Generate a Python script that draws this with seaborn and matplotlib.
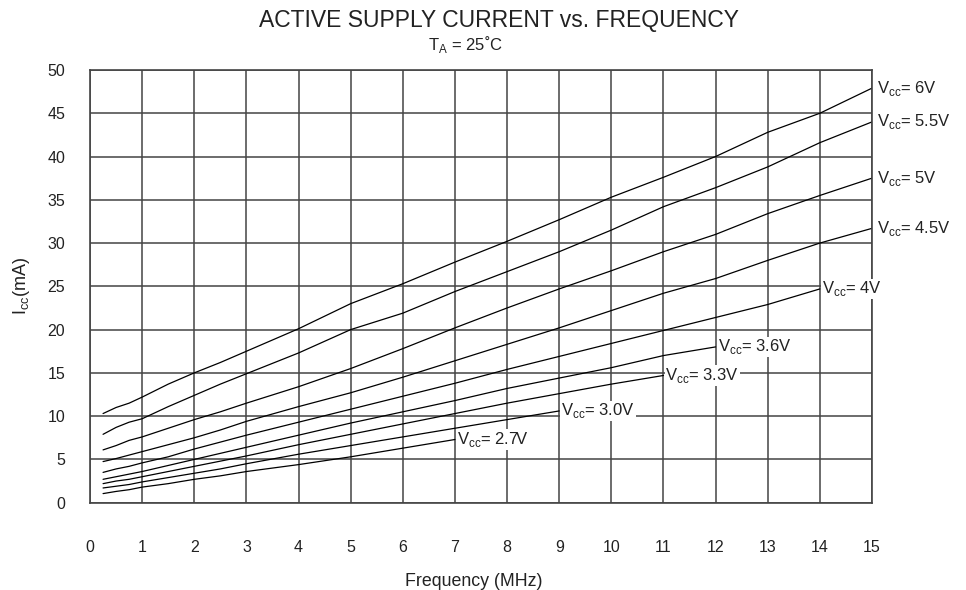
from matplotlib import pyplot as plt
import pandas as pd
import seaborn as sns

# values (mA), one list per supply voltage
freq = [0.25, 0.5, 0.75, 1, 1.5, 2, 2.5, 3, 4, 5, 6, 7, 8, 9, 10, 11, 12, 13, 14, 15]

icc_6v0 = [10.3, 11.0, 11.5, 12.2, 13.7, 15.0, 16.2, 17.5, 20.1, 23.0, 25.3, 27.8, 30.2, 32.7, 35.3, 37.6, 40.0, 42.8, 45.0, 47.9]
icc_5v5 = [7.9, 8.7, 9.3, 9.7, 11.1, 12.4, 13.7, 14.9, 17.3, 20.0, 21.9, 24.4, 26.7, 29.0, 31.5, 34.2, 36.4, 38.8, 41.6, 44.0]
icc_5v0 = [6.1, 6.6, 7.2, 7.6, 8.6, 9.6, 10.5, 11.5, 13.4, 15.5, 17.8, 20.2, 22.5, 24.7, 26.8, 29.0, 31.0, 33.4, 35.5, 37.5]
icc_4v5 = [4.75, 5.1, 5.5, 5.9, 6.7, 7.5, 8.4, 9.4, 11.1, 12.7, 14.5, 16.4, 18.3, 20.2, 22.2, 24.2, 25.9, 28.0, 30.0, 31.7]
icc_4v0 = [3.5, 3.9, 4.2, 4.6, 5.3, 6.2, 7.0, 7.8, 9.3, 10.8, 12.3, 13.8, 15.4, 16.9, 18.4, 19.9, 21.4, 22.9, 24.7]
icc_3v6 = [2.7, 3.0, 3.3, 3.6, 4.3, 5.0, 5.7, 6.4, 7.8, 9.2, 10.5, 11.8, 13.2, 14.4, 15.6, 17.0, 18.0]
icc_3v3 = [2.2, 2.5, 2.7, 3.0, 3.6, 4.2, 4.8, 5.4, 6.7, 7.9, 9.1, 10.3, 11.5, 12.6, 13.7, 14.7]
icc_3v0 = [1.7, 1.9, 2.1, 2.4, 2.9, 3.4, 3.9, 4.5, 5.6, 6.6, 7.6, 8.6, 9.6, 10.6]
icc_2v7 = [1.05, 1.3, 1.5, 1.8, 2.2, 2.7, 3.1, 3.6, 4.4, 5.3, 6.3, 7.3]

vcc_names = ["6V", "5.5V", "5V", "4.5V", "4V", "3.6V", "3.3V", "3.0V", "2.7V"]
series = [icc_6v0, icc_5v5, icc_5v0, icc_4v5, icc_4v0, icc_3v6, icc_3v3, icc_3v0, icc_2v7]

rows = []
for name, vals in zip(vcc_names, series):
    for f, i in zip(freq, vals):
        rows.append({"vcc": name, "freq": f, "icc": i})
df = pd.DataFrame(rows)

sns.set_style("white")
plt.rcParams['font.family'] = ['Liberation Sans', 'DejaVu Sans']
plt.rcParams['mathtext.fontset'] = 'custom'
plt.rcParams['mathtext.rm'] = 'Liberation Sans'

grid_col = "#444444"
txt_col = "#222222"

fig = plt.figure(figsize=(9.66, 5.9), dpi=100)
ax = fig.add_axes([0.0932, 0.148, 0.8095, 0.7334])

sns.lineplot(data=df, x="freq", y="icc", hue="vcc", hue_order=vcc_names,
             palette=["black"] * len(vcc_names), legend=False, lw=0.9, ax=ax)

ax.set_xlim(0, 15)
ax.set_ylim(0, 50)
ax.set_xticks(range(0, 16))
ax.set_yticks(range(0, 51, 5))
ax.grid(True, color=grid_col, lw=1.1)
ax.set_axisbelow(True)
for s in ax.spines.values():
    s.set_color(grid_col)
    s.set_linewidth(1.2)
ax.tick_params(axis='x', length=0, pad=27, labelsize=11.5, colors=txt_col)
ax.tick_params(axis='y', length=0, pad=18, labelsize=11.5, colors=txt_col)

ax.set_xlabel("Frequency (MHz)", fontsize=12.8, color=txt_col)
ax.set_ylabel(r"I$_{\mathregular{cc}}$(mA)", fontsize=13, color=txt_col)
ax.xaxis.set_label_coords(0.491, -0.162)
ax.yaxis.set_label_coords(-0.074, 0.5)

# curve labels at the end of each line
for name, vals in zip(vcc_names, series):
    x_end = freq[len(vals) - 1]
    off = 5 if x_end == 15 else 2
    ax.annotate(r"V$_{\mathregular{cc}}$= " + name, xy=(x_end, vals[-1]),
                xytext=(off, 0), textcoords="offset pixels",
                ha="left", va="center", fontsize=12, color=txt_col,
                annotation_clip=False,
                bbox=dict(boxstyle="square,pad=0.05", fc="white", ec="none"))

fig.text(0.5166, 0.9537, "ACTIVE SUPPLY CURRENT vs. FREQUENCY", ha="center",
         va="baseline", fontsize=16.5, color=txt_col)
fig.text(0.482, 0.924, r"T$_{\mathregular{A}}$ = 25˚C", ha="center",
         va="center", fontsize=12, color=txt_col)

fig.savefig("out.png", dpi=100)
